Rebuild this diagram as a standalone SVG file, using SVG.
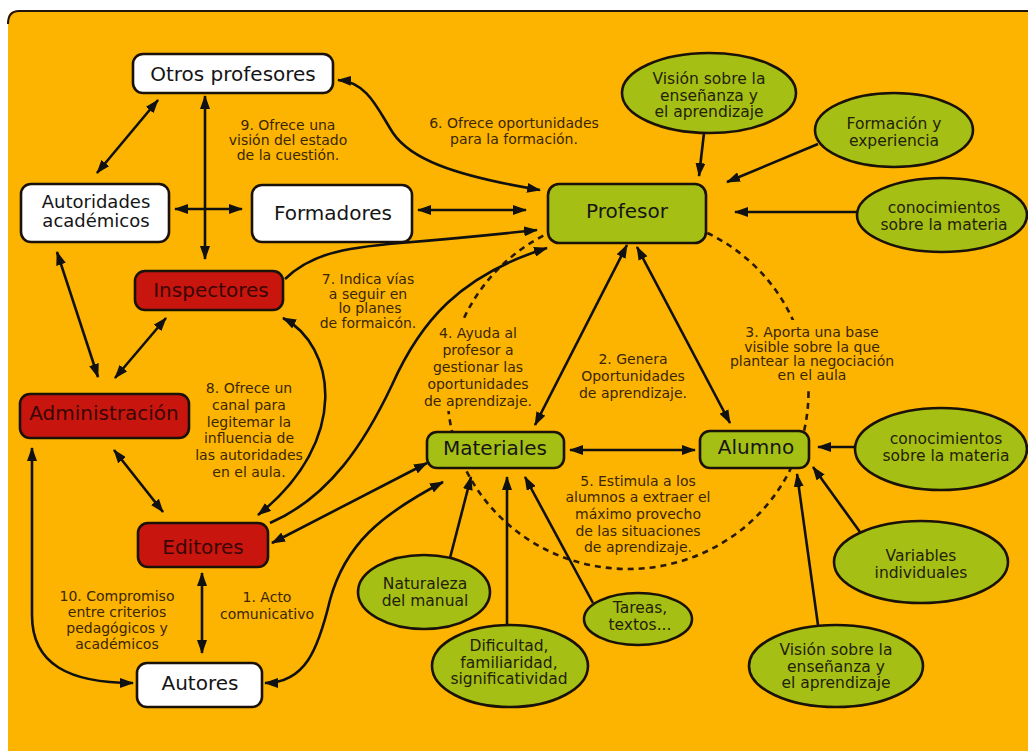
<svg xmlns="http://www.w3.org/2000/svg" width="1028" height="751" viewBox="0 0 1028 751">
  <style>
    text { font-family: "DejaVu Sans", Verdana, sans-serif; text-anchor: middle; }
    .box { stroke: #1a1208; stroke-width: 2.6; }
    .white { fill: #ffffff; }
    .green { fill: #a6bf14; }
    .red { fill: #c8160f; }
    .ntxt { font-size: 20px; fill: #151515; }
    .ntxt2 { font-size: 18px; fill: #151515; }
    .rtxt { font-size: 20px; fill: #3a0604; }
    .etxt { font-size: 15.5px; fill: #1f2208; }
    .lbl { font-size: 14px; fill: #3a2600; }
    .con { fill: none; stroke: #111; stroke-width: 2.6; }
    .one { marker-end: url(#ah); }
    .two { marker-start: url(#ah); marker-end: url(#ah); }
    .dash { fill: none; stroke: #2a1a06; stroke-width: 2.6; stroke-dasharray: 6 5; }
  </style>
  <defs>
    <marker id="ah" viewBox="0 0 14 10" refX="13" refY="5" markerWidth="14" markerHeight="10" markerUnits="userSpaceOnUse" orient="auto-start-reverse">
      <path d="M0,0 L14,5 L0,10 z" fill="#111"/>
    </marker>
    <mask id="labelGaps" maskUnits="userSpaceOnUse" x="0" y="0" width="1028" height="751">
      <rect x="0" y="0" width="1028" height="751" fill="#fff"/>
      <rect x="425" y="319" width="60" height="92" fill="#000"/>
      <rect x="775" y="320" width="60" height="70" fill="#000"/>
    </mask>
  </defs>

  <!-- background panel -->
  <path d="M8,751 L8,19 Q8,11 16,11 L1028,11 L1028,751 Z" fill="#fdb400"/>
  <path d="M8,24 Q8,11 19,11 L1028,11" fill="none" stroke="#221408" stroke-width="2"/>

  <!-- dashed cycle around Profesor / Materiales / Alumno -->
  <ellipse class="dash" cx="628" cy="392" rx="180.5" ry="177" mask="url(#labelGaps)"/>

  <g id="connectors">
    <line class="con two" x1="158" y1="100" x2="97" y2="173"/>
    <line class="con two" x1="205" y1="96" x2="205" y2="259"/>
    <line class="con two" x1="175" y1="209" x2="242" y2="209"/>
    <line class="con two" x1="418" y1="210" x2="526" y2="210"/>
    <path class="con two" d="M338,80 C368,82 378,110 393,133 C410,158 450,175 540,190"/>
    <path class="con one" d="M285,279 C310,255 340,248 400,243 C450,239 500,234 537,230"/>
    <path class="con one" d="M270,523 C330,497 365,442 392,385 C420,322 460,275 547,248"/>
    <path class="con two" d="M283,318 C335,345 352,440 258,515"/>
    <line class="con two" x1="272" y1="543" x2="427" y2="463"/>
    <path class="con two" d="M443,482 C380,515 345,545 330,600 C318,650 305,683 265,683"/>
    <line class="con two" x1="98" y1="377" x2="57" y2="252"/>
    <line class="con two" x1="115" y1="378" x2="166" y2="318"/>
    <line class="con two" x1="114" y1="450" x2="163" y2="512"/>
    <path class="con two" d="M32,448 L32,615 C32,665 70,683 133,683"/>
    <line class="con two" x1="202" y1="573" x2="202" y2="653"/>
    <line class="con two" x1="627" y1="245" x2="535" y2="425"/>
    <line class="con two" x1="637" y1="247" x2="730" y2="423"/>
    <line class="con two" x1="570" y1="450" x2="695" y2="450"/>
    <line class="con one" x1="704" y1="133" x2="699" y2="176"/>
    <line class="con one" x1="818" y1="144" x2="727" y2="182"/>
    <line class="con one" x1="858" y1="212" x2="735" y2="212"/>
    <line class="con one" x1="856" y1="447" x2="818" y2="447"/>
    <line class="con one" x1="860" y1="532" x2="813" y2="467"/>
    <line class="con one" x1="818" y1="625" x2="797" y2="474"/>
    <line class="con one" x1="450" y1="558" x2="471" y2="477"/>
    <line class="con one" x1="507" y1="625" x2="507" y2="477"/>
    <line class="con one" x1="593" y1="603" x2="525" y2="477"/>
  </g>

  <!-- connector labels -->
  <g id="labels" class="lbl">
    <text class="lbl" x="288" y="130">9. Ofrece una</text>
    <text class="lbl" x="288" y="145">visión del estado</text>
    <text class="lbl" x="288" y="160">de la cuestión.</text>

    <text class="lbl" x="514" y="128">6. Ofrece oportunidades</text>
    <text class="lbl" x="514" y="144">para la formación.</text>

    <text class="lbl" x="368" y="284">7. Indica vías</text>
    <text class="lbl" x="368" y="299">a seguir en</text>
    <text class="lbl" x="370" y="313">lo planes</text>
    <text class="lbl" x="368" y="328">de formaicón.</text>

    <text class="lbl" x="249" y="393">8. Ofrece un</text>
    <text class="lbl" x="249" y="410">canal para</text>
    <text class="lbl" x="249" y="427">legitemar la</text>
    <text class="lbl" x="249" y="443">influencia de</text>
    <text class="lbl" x="249" y="460">las autoridades</text>
    <text class="lbl" x="249" y="477">en el aula.</text>

    <text class="lbl" x="478" y="338">4. Ayuda al</text>
    <text class="lbl" x="478" y="355">profesor a</text>
    <text class="lbl" x="478" y="372">gestionar las</text>
    <text class="lbl" x="478" y="389">oportunidades</text>
    <text class="lbl" x="478" y="406">de aprendizaje.</text>

    <text class="lbl" x="633" y="364">2. Genera</text>
    <text class="lbl" x="633" y="381">Oportunidades</text>
    <text class="lbl" x="633" y="398">de aprendizaje.</text>

    <text class="lbl" x="812" y="337">3. Aporta una base</text>
    <text class="lbl" x="812" y="352">visible sobre la que</text>
    <text class="lbl" x="812" y="366">plantear la negociación</text>
    <text class="lbl" x="812" y="380">en el aula</text>

    <text class="lbl" x="638" y="486">5. Estimula a los</text>
    <text class="lbl" x="638" y="502">alumnos a extraer el</text>
    <text class="lbl" x="638" y="519">máximo provecho</text>
    <text class="lbl" x="638" y="536">de las situaciones</text>
    <text class="lbl" x="638" y="552">de aprendizaje.</text>

    <text class="lbl" x="267" y="602">1. Acto</text>
    <text class="lbl" x="267" y="619">comunicativo</text>

    <text class="lbl" x="117" y="601">10. Compromiso</text>
    <text class="lbl" x="117" y="617">entre criterios</text>
    <text class="lbl" x="117" y="633">pedagógicos y</text>
    <text class="lbl" x="117" y="649">académicos</text>
  </g>

  <!-- rectangular nodes -->
  <g id="otros-profesores">
    <rect class="box white" x="133" y="54" width="200" height="39" rx="10"/>
    <text class="ntxt" x="233" y="81">Otros profesores</text>
  </g>
  <g id="autoridades">
    <rect class="box white" x="21" y="184" width="148" height="58" rx="10"/>
    <text class="ntxt2" x="96" y="208">Autoridades</text>
    <text class="ntxt2" x="96" y="227">académicos</text>
  </g>
  <g id="formadores">
    <rect class="box white" x="252" y="185" width="160" height="57" rx="10"/>
    <text class="ntxt" x="333" y="220">Formadores</text>
  </g>
  <g id="profesor">
    <rect class="box green" x="548" y="184" width="158" height="59" rx="11"/>
    <text class="ntxt" x="627" y="218">Profesor</text>
  </g>
  <g id="inspectores">
    <rect class="box red" x="135" y="271" width="148" height="39" rx="10"/>
    <text class="rtxt" x="211" y="297">Inspectores</text>
  </g>
  <g id="administracion">
    <rect class="box red" x="20" y="394" width="169" height="44" rx="10"/>
    <text class="rtxt" x="104" y="420">Administración</text>
  </g>
  <g id="editores">
    <rect class="box red" x="138" y="523" width="130" height="44" rx="10"/>
    <text class="rtxt" x="203" y="554">Editores</text>
  </g>
  <g id="autores">
    <rect class="box white" x="137" y="663" width="125" height="44" rx="10"/>
    <text class="ntxt" x="200" y="690">Autores</text>
  </g>
  <g id="materiales">
    <rect class="box green" x="427" y="432" width="137" height="36" rx="10"/>
    <text class="ntxt" x="495" y="455">Materiales</text>
  </g>
  <g id="alumno">
    <rect class="box green" x="700" y="431" width="109" height="37" rx="10"/>
    <text class="ntxt" x="756" y="454">Alumno</text>
  </g>

  <!-- factor ellipses -->
  <g id="vision-profesor">
    <ellipse class="box green" cx="709" cy="93" rx="87" ry="40"/>
    <text class="etxt" x="709" y="84">Visión sobre la</text>
    <text class="etxt" x="709" y="100.5">enseñanza y</text>
    <text class="etxt" x="709" y="117">el aprendizaje</text>
  </g>
  <g id="formacion">
    <ellipse class="box green" cx="894" cy="130" rx="79" ry="37"/>
    <text class="etxt" x="894" y="129">Formación y</text>
    <text class="etxt" x="894" y="145.5">experiencia</text>
  </g>
  <g id="conocimientos-profesor">
    <ellipse class="box green" cx="942" cy="215" rx="85" ry="37"/>
    <text class="etxt" x="944" y="213">conocimientos</text>
    <text class="etxt" x="944" y="229.5">sobre la materia</text>
  </g>
  <g id="conocimientos-alumno">
    <ellipse class="box green" cx="941" cy="449" rx="86" ry="41"/>
    <text class="etxt" x="946" y="444">conocimientos</text>
    <text class="etxt" x="946" y="460.5">sobre la materia</text>
  </g>
  <g id="variables">
    <ellipse class="box green" cx="921" cy="562" rx="87" ry="41"/>
    <text class="etxt" x="921" y="561">Variables</text>
    <text class="etxt" x="921" y="577.5">individuales</text>
  </g>
  <g id="vision-alumno">
    <ellipse class="box green" cx="836" cy="666" rx="87" ry="41"/>
    <text class="etxt" x="836" y="655">Visión sobre la</text>
    <text class="etxt" x="836" y="671.5">enseñanza y</text>
    <text class="etxt" x="836" y="688">el aprendizaje</text>
  </g>
  <g id="naturaleza">
    <ellipse class="box green" cx="424" cy="592" rx="66" ry="37"/>
    <text class="etxt" x="425" y="589">Naturaleza</text>
    <text class="etxt" x="425" y="605.5">del manual</text>
  </g>
  <g id="dificultad">
    <ellipse class="box green" cx="510" cy="666" rx="78" ry="41"/>
    <text class="etxt" x="509" y="651">Dificultad,</text>
    <text class="etxt" x="509" y="667.5">familiaridad,</text>
    <text class="etxt" x="509" y="684">significatividad</text>
  </g>
  <g id="tareas">
    <ellipse class="box green" cx="638" cy="619" rx="54" ry="26"/>
    <text class="etxt" x="640" y="613">Tareas,</text>
    <text class="etxt" x="640" y="629.5">textos...</text>
  </g>
</svg>
